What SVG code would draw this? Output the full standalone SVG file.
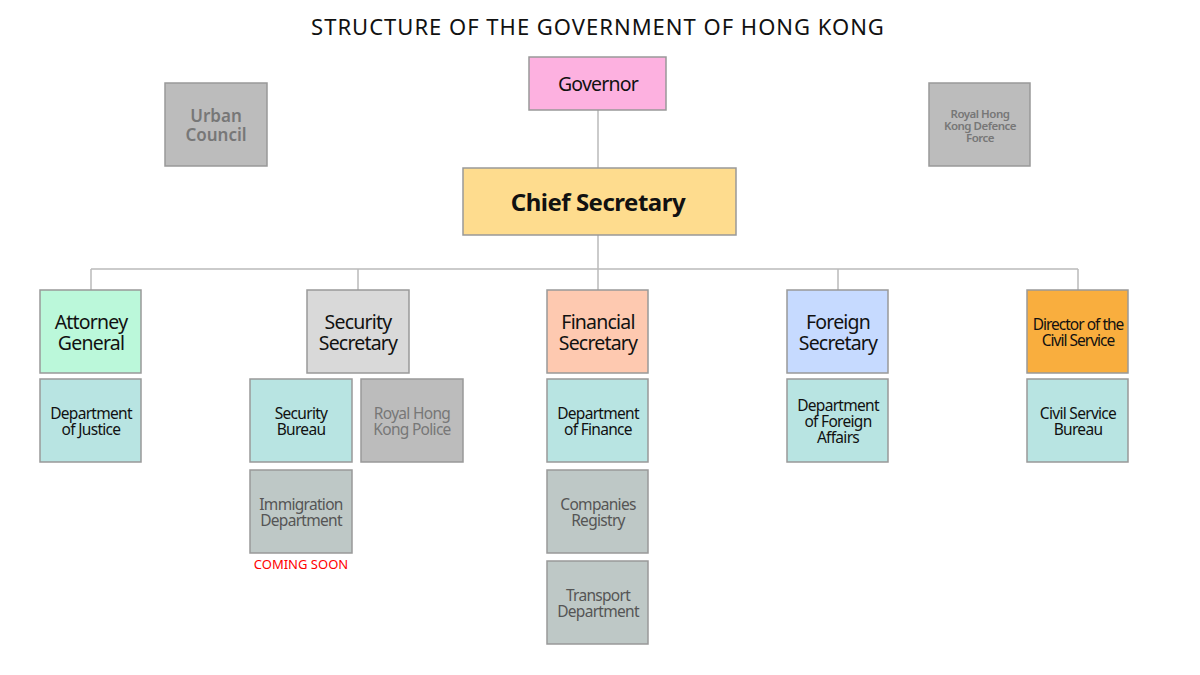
<svg xmlns="http://www.w3.org/2000/svg" width="1200" height="675" viewBox="0 0 1200 675">
<style>
text{font-family:"Noto Sans","Open Sans",sans-serif;text-anchor:middle;fill:#111}
.b{stroke:#999;stroke-width:1.5}
.g{fill:#777}
.m{font-size:15.5px;letter-spacing:-0.7px}
.l{font-size:19.5px;letter-spacing:-0.8px}
.c{fill:none;stroke:#bbb;stroke-width:1.5}
</style>
<rect width="1200" height="675" fill="#fff"/>
<text x="598" y="35" style="font-size:22px;letter-spacing:1px">STRUCTURE OF THE GOVERNMENT OF HONG KONG</text>
<g id="connectors">
<path class="c" d="M598 110V168M598 235V290M91 269H1078M91 269V290M358 269V290M838 269V290M1078 269V290"/>
</g>
<g id="governor"><rect class="b" x="529" y="57" width="137" height="53" fill="#fdb1e0"/><text x="598" y="91" class="l">Governor</text></g>
<g id="chief"><rect class="b" x="463" y="168" width="273" height="67" fill="#fedc8e"/><text x="598" y="211" style="font-size:24px;font-weight:bold;letter-spacing:-0.5px">Chief Secretary</text></g>
<g id="urban"><rect class="b" x="165" y="83" width="102" height="83" fill="#bcbcbc"/><text class="g" x="216" y="122" style="font-size:17px;font-weight:600">Urban<tspan x="216" dy="19">Council</tspan></text></g>
<g id="rhkdf"><rect class="b" x="929" y="83" width="101" height="83" fill="#bcbcbc"/><text class="g" x="980" y="118" style="font-size:11.5px;font-weight:600;letter-spacing:-0.5px">Royal Hong<tspan x="980" dy="12">Kong Defence</tspan><tspan x="980" dy="12">Force</tspan></text></g>
<g id="ag"><rect class="b" x="40" y="290" width="101" height="83" fill="#bbf8da"/><text class="l" x="91" y="329">Attorney<tspan x="91" dy="21">General</tspan></text></g>
<g id="ss"><rect class="b" x="307" y="290" width="102" height="83" fill="#d9d9d9"/><text class="l" x="358" y="329">Security<tspan x="358" dy="21">Secretary</tspan></text></g>
<g id="fs"><rect class="b" x="547" y="290" width="101" height="83" fill="#fec9b0"/><text class="l" x="598" y="329">Financial<tspan x="598" dy="21">Secretary</tspan></text></g>
<g id="fors"><rect class="b" x="787" y="290" width="101" height="83" fill="#c6daff"/><text class="l" x="838" y="329">Foreign<tspan x="838" dy="21">Secretary</tspan></text></g>
<g id="dcs"><rect class="b" x="1027" y="290" width="101" height="83" fill="#f9ae3e"/><text x="1078" y="330" style="font-size:15.5px;letter-spacing:-1px">Director of the<tspan x="1078" dy="16">Civil Service</tspan></text></g>
<g id="doj"><rect class="b" x="40" y="379" width="101" height="83" fill="#b8e4e2"/><text class="m" x="91" y="419">Department<tspan x="91" dy="16">of Justice</tspan></text></g>
<g id="sb"><rect class="b" x="250" y="379" width="102" height="83" fill="#b8e4e2"/><text class="m" x="301" y="419">Security<tspan x="301" dy="16">Bureau</tspan></text></g>
<g id="rhkp"><rect class="b" x="361" y="379" width="102" height="83" fill="#bcbcbc"/><text class="m g" x="412" y="419">Royal Hong<tspan x="412" dy="16">Kong Police</tspan></text></g>
<g id="dof"><rect class="b" x="547" y="379" width="101" height="83" fill="#b8e4e2"/><text class="m" x="598" y="419">Department<tspan x="598" dy="16">of Finance</tspan></text></g>
<g id="dofa"><rect class="b" x="787" y="379" width="101" height="83" fill="#b8e4e2"/><text class="m" x="838" y="411">Department<tspan x="838" dy="16">of Foreign</tspan><tspan x="838" dy="16">Affairs</tspan></text></g>
<g id="csb"><rect class="b" x="1027" y="379" width="101" height="83" fill="#b8e4e2"/><text class="m" x="1078" y="419">Civil Service<tspan x="1078" dy="16">Bureau</tspan></text></g>
<g id="imm"><rect class="b" x="250" y="470" width="102" height="83" fill="#bec8c6"/><text class="m" x="301" y="510" style="fill:#555">Immigration<tspan x="301" dy="16">Department</tspan></text><text x="301" y="569" style="font-size:13px;fill:#f00">COMING SOON</text></g>
<g id="cr"><rect class="b" x="547" y="470" width="101" height="83" fill="#bec8c6"/><text class="m" x="598" y="510" style="fill:#555">Companies<tspan x="598" dy="16">Registry</tspan></text></g>
<g id="td"><rect class="b" x="547" y="561" width="101" height="83" fill="#bec8c6"/><text class="m" x="598" y="601" style="fill:#555">Transport<tspan x="598" dy="16">Department</tspan></text></g>
</svg>
